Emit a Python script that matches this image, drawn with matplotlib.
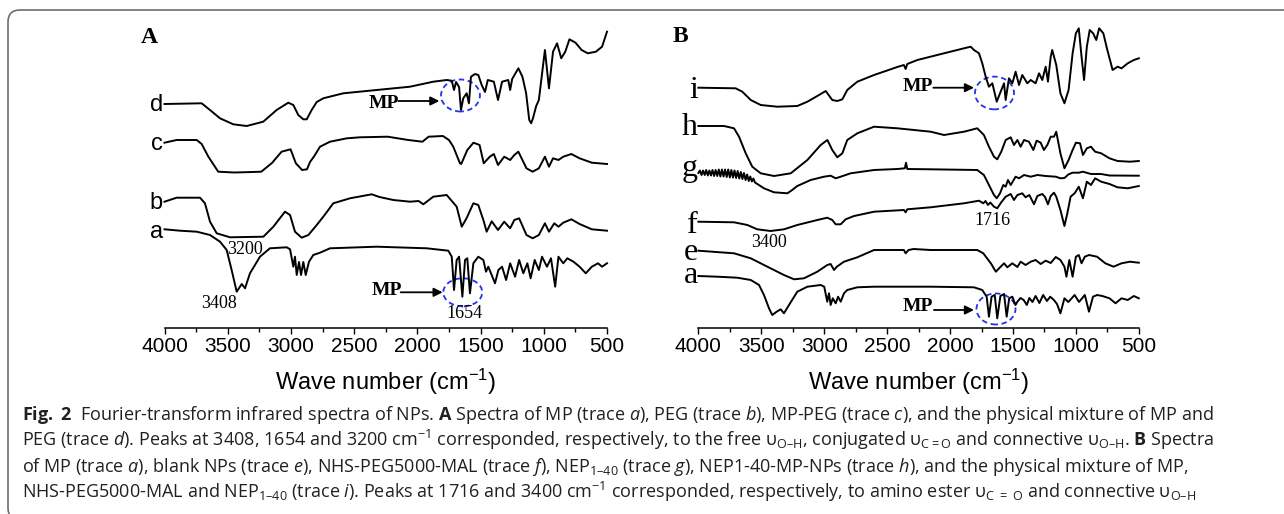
import numpy as np
import matplotlib
matplotlib.use("Agg")
import matplotlib.pyplot as plt
from matplotlib.patches import Ellipse, FancyBboxPatch

W, H = 1284, 514

# ---- panel A traces (wavenumber, stacked transmittance, arbitrary units) ----
A_d_wn = [4000, 3706, 3640, 3561, 3456, 3350, 3219, 3113, 3021, 2981, 2942, 2902, 2875, 2836, 2796, 2744,
          2586, 2322, 2058, 1874, 1768, 1728, 1710, 1694, 1670, 1655, 1637, 1610, 1592, 1576, 1544, 1518,
          1491, 1465, 1443, 1395, 1362, 1330, 1281, 1266, 1250, 1201, 1169, 1140, 1115, 1100, 1085, 1060,
          1039, 991, 959, 927, 895, 862, 830, 797, 749, 701, 652, 588, 539, 500]
A_d_t = [224, 224.7, 218, 209.7, 203.7, 202, 206.3, 218, 225.3, 223, 213, 208.7, 208.7, 218, 226, 229.7,
         234.7, 238, 241.3, 246.3, 248, 247.3, 238, 246, 241, 218, 229.7, 234.7, 224.7, 251.3, 254, 253,
         243, 236, 248, 246.3, 228, 246.3, 248, 238, 249, 259.7, 251.3, 235, 208, 204.7, 210, 222,
         228, 278, 239.7, 276.3, 284.7, 269.7, 276.3, 288.7, 285.3, 278, 274.7, 276.3, 281.3, 296.3]

A_c_wn = [4000, 3904, 3745, 3706, 3653, 3601, 3575, 3450, 3300, 3235, 3150, 3074, 3003, 2961, 2912, 2873,
          2849, 2815, 2770, 2691, 2557, 2454, 2234, 2072, 1960, 1911, 1798, 1750, 1716, 1663, 1653, 1605,
          1556, 1508, 1475, 1427, 1395, 1362, 1313, 1266, 1233, 1201, 1137, 1088, 1039, 991, 959, 927,
          884, 846, 782, 717, 620, 500]
A_c_t = [185.3, 188, 188, 184, 171.3, 161.3, 156.3, 155.5, 156, 156.3, 165, 176.3, 178.7, 164.7, 158, 158.7,
         166, 172, 181.3, 186.3, 189.7, 190.7, 191.3, 188, 186.3, 191.3, 192, 188, 181.3, 164.7, 164, 178,
         185.3, 183, 164.7, 171.3, 174, 163, 171.3, 168, 173, 176.3, 159.7, 156.3, 159.7, 171.3, 161.3, 169.7,
         168, 171.3, 174, 169.7, 165.3, 164]

A_b_wn = [4000, 3904, 3719, 3680, 3640, 3587, 3482, 3218, 3139, 3047, 3007, 2968, 2915, 2862, 2796, 2744,
          2665, 2533, 2361, 2300, 2190, 2058, 1990, 1953, 1874, 1768, 1689, 1649, 1610, 1557, 1518, 1478,
          1452, 1412, 1362, 1313, 1266, 1233, 1195, 1137, 1088, 1039, 991, 959, 917, 884, 846, 782,
          717, 620, 500]
A_b_t = [126.3, 130.3, 130.3, 124.7, 106.3, 94.7, 90.7, 91.3, 101.3, 116.3, 113, 96.3, 90.3, 93, 103, 111.3,
         124.7, 129.7, 133.7, 131, 128, 126.3, 127, 123.7, 131.3, 133, 121.3, 101.3, 110, 124.7, 123, 108,
         96.3, 106.7, 98, 106.3, 99.7, 108, 109.7, 93, 89.7, 93, 104.7, 96.3, 104.7, 101.3, 105.3, 108.7,
         104, 98.7, 97.3]

A_a_wn = [4000, 3877, 3745, 3640, 3561, 3508, 3469, 3429, 3389, 3363, 3324, 3245, 3166, 3033, 3007, 2981,
          2968, 2954, 2936, 2920, 2902, 2883, 2857, 2823, 2770, 2691, 2322, 1926, 1755, 1728, 1710, 1689,
          1670, 1644, 1623, 1605, 1584, 1557, 1518, 1478, 1457, 1439, 1412, 1386, 1359, 1330, 1298, 1266,
          1227, 1195, 1162, 1130, 1104, 1072, 1039, 1014, 975, 943, 910, 884, 846, 814, 765, 717,
          668, 620, 571, 539, 500]
A_a_t = [98.7, 97.3, 96.3, 93, 86.3, 78, 58, 36.3, 44, 39.7, 54.7, 71.3, 79.7, 80.7, 78.7, 61.3,
         71.3, 53, 66, 53, 66, 53, 66.3, 73, 75.3, 79.7, 81.3, 79.7, 77.3, 71.3, 38, 68,
         71.3, 31.3, 68, 69.7, 34.7, 64.7, 71.3, 68, 56.3, 61.3, 53, 44.7, 58, 61.3, 48, 64.7,
         51.3, 68, 54.7, 64.7, 49.7, 68, 58, 71.3, 61.3, 69.7, 41.3, 71.3, 64.7, 69.7, 66.3, 61.3,
         54.7, 61.3, 64.7, 61.3, 64.7]

# ---- panel B traces ----
B_i_wn = [4000, 3704, 3651, 3584, 3505, 3373, 3214, 3134, 3055, 2988, 2936, 2896, 2856, 2817, 2737, 2604,
          2419, 2367, 2353, 2340, 2260, 2048, 1889, 1836, 1810, 1770, 1744, 1717, 1691, 1664, 1629, 1598,
          1571, 1558, 1532, 1505, 1479, 1452, 1426, 1386, 1359, 1320, 1293, 1267, 1240, 1222, 1200, 1188,
          1156, 1123, 1091, 1058, 1026, 1000, 977, 955, 935, 913, 890, 863, 838, 815, 782, 750,
          708, 669, 637, 588, 539, 500]
B_i_t = [240.3, 239.7, 236.3, 228, 223, 221.3, 222, 226.3, 232, 237, 228, 227, 228.7, 238, 246.3, 253,
         261, 263, 259, 264, 268, 274.7, 279.7, 281.3, 278, 274.7, 264.7, 251.3, 241.3, 244.7, 226.3, 236.3,
         244.7, 228, 249.7, 244.7, 256.3, 243, 253, 244.7, 248, 244.7, 254.7, 248, 261.3, 246.3, 271.3, 278,
         263, 234.7, 224.7, 238, 274.7, 294.7, 299.7, 271.3, 248, 281.3, 298, 294.7, 288, 299.7, 294.7, 278,
         258, 261.3, 259.7, 264.7, 268, 269.7]

B_h_wn = [4000, 3797, 3717, 3677, 3624, 3572, 3505, 3399, 3266, 3134, 3028, 2975, 2936, 2896, 2856, 2817,
          2737, 2604, 2419, 2154, 2048, 1889, 1784, 1731, 1691, 1651, 1625, 1593, 1558, 1518, 1492, 1465,
          1439, 1412, 1373, 1338, 1312, 1280, 1254, 1227, 1200, 1174, 1156, 1123, 1091, 1058, 1026, 1000,
          967, 944, 913, 880, 847, 799, 733, 669, 571, 500]
B_h_t = [202, 202, 199.7, 191.3, 174.7, 161.3, 154.7, 152, 154.7, 168, 183, 188, 178, 170.7, 174.7, 188,
         194.7, 201.3, 199.7, 196.3, 193, 196.3, 199.7, 193, 181.3, 171.3, 168.7, 176.3, 188, 190.7, 183, 188,
         181.3, 188, 186.3, 178, 187.3, 185.3, 178, 183, 191.3, 191.3, 196.3, 174.7, 159.7, 168, 178, 185.3,
         184.7, 173, 179.7, 181.3, 176.3, 174.7, 169.7, 167, 166.3, 167]

# g starts with a dense noisy stretch
B_g_wn = [4000, 3988, 3975, 3963, 3950, 3938, 3925, 3913, 3900, 3888, 3875, 3863, 3850, 3838, 3825, 3813,
          3800, 3788, 3775, 3763, 3750, 3738, 3725, 3713, 3700, 3688, 3675, 3663, 3650, 3638, 3625, 3613,
          3600, 3588, 3575, 3563, 3550, 3479, 3399, 3293, 3262, 3214, 3108, 3002, 2949, 2909, 2869, 2790,
          2604, 2419, 2360, 2350, 2340, 2154, 1784, 1731, 1691, 1651, 1629, 1603, 1577, 1558, 1540, 1518,
          1479, 1452, 1412, 1359, 1306, 1240, 1160, 1123, 1091, 1058, 1026, 977, 944, 880, 800, 733, 500]
B_g_t = [155, 157.5, 153, 157.5, 153, 158, 152.5, 157.5, 152.5, 158, 152, 158, 152, 158.5, 151.5, 158.5,
         151.5, 158.5, 151, 158.5, 150.5, 158, 150.5, 157.5, 150, 157, 149.5, 156, 149, 155, 148, 153.5,
         147, 151.5, 146.5, 149.5, 145.5, 139.7, 135.7, 134.7, 137.3, 142, 148, 151.3, 152.3, 149.7, 151.3, 154.7,
         158, 159, 159.7, 165.3, 159, 158.7, 158, 153, 143, 133, 129.7, 134.7, 143, 141.3, 148, 143,
         151.3, 149.7, 153, 151.3, 153, 152, 151.3, 149.7, 150, 153.7, 155.3, 155.3, 156.3, 154, 154, 152.5, 152.3]

B_f_wn = [4000, 3717, 3611, 3532, 3426, 3320, 3214, 3055, 2976, 2936, 2909, 2869, 2830, 2763, 2604, 2367,
          2353, 2340, 2154, 1889, 1770, 1736, 1718, 1699, 1680, 1651, 1625, 1593, 1558, 1518, 1492, 1465,
          1426, 1400, 1370, 1333, 1306, 1267, 1245, 1222, 1200, 1174, 1156, 1123, 1091, 1068, 1042, 1010,
          977, 944, 913, 880, 847, 799, 733, 669, 588, 500]
B_f_t = [106.3, 105.7, 103, 98.7, 97, 98.7, 103, 108, 110.3, 108, 103.7, 103.7, 108.7, 112, 116.3, 118,
         115.7, 118.7, 120.7, 124.7, 127.3, 124.7, 127, 123, 125.5, 121.3, 119.7, 125.7, 131.3, 134, 128, 133,
         134.7, 130.7, 133, 123.7, 132, 134, 131, 123.7, 132, 135.3, 131.3, 118, 102, 114.7, 131.3, 134.7,
         141.3, 129.7, 146.3, 143, 149.7, 146.3, 144, 140.7, 139.7, 142]

B_e_wn = [4000, 3717, 3584, 3452, 3320, 3240, 3161, 3055, 2976, 2949, 2922, 2900, 2843, 2737, 2604, 2367,
          2353, 2330, 2290, 2154, 1784, 1736, 1676, 1636, 1598, 1571, 1545, 1505, 1465, 1439, 1400, 1359,
          1320, 1280, 1240, 1200, 1160, 1123, 1091, 1075, 1052, 1026, 1000, 977, 955, 929, 896, 832,
          766, 701, 637, 571, 500]
B_e_t = [77.3, 74.7, 69.7, 61.3, 53, 48.7, 49.7, 56.3, 63, 64, 58, 61.3, 66.3, 70.7, 78, 78,
         74.7, 78, 79, 78, 78, 74.7, 64.7, 56.3, 61.3, 64.7, 60.7, 64.7, 61, 66.3, 63, 66.3,
         68, 64, 67.3, 65, 71, 68, 61.3, 51.3, 68, 51.3, 71.3, 73, 64.7, 71.3, 73, 71.3,
         64.7, 61.3, 64.7, 66.3, 65.3]

B_a_wn = [4000, 3850, 3691, 3584, 3518, 3479, 3439, 3413, 3378, 3346, 3320, 3280, 3214, 3134, 3028, 3000,
          2976, 2962, 2949, 2932, 2909, 2890, 2869, 2843, 2817, 2737, 2604, 2154, 1810, 1744, 1709, 1691,
          1670, 1645, 1625, 1600, 1571, 1550, 1530, 1505, 1480, 1465, 1440, 1415, 1390, 1370, 1345, 1320,
          1290, 1260, 1230, 1204, 1175, 1150, 1123, 1091, 1060, 1010, 975, 929, 896, 864, 832, 790,
          733, 685, 637, 588, 539, 500]
B_a_t = [52, 51.3, 50.3, 48, 43, 33, 19.7, 13, 16.3, 18.7, 14.7, 23, 36.3, 41.3, 43, 41.3,
         26.3, 34.7, 23, 29.7, 24.7, 31.3, 26.3, 34.7, 38, 40.7, 41.3, 41.3, 40.7, 38, 31.3, 11.3,
         31.3, 33, 9.7, 32, 34, 11.3, 29.7, 31.3, 23, 26.3, 30, 28, 23, 30, 26, 32,
         25, 33, 27, 31.3, 28, 24, 14.7, 29.7, 26, 33, 26, 33, 16.3, 31.3, 33, 32,
         29.7, 24.7, 29.7, 28, 32, 29.7]

ticks = [4000, 3500, 3000, 2500, 2000, 1500, 1000, 500]

caption = [
    r"$\mathbf{Fig.}$ $\mathbf{2}$  Fourier-transform infrared spectra of NPs. $\mathbf{A}$ Spectra of MP (trace $\mathit{a}$), "
    r"PEG (trace $\mathit{b}$), MP-PEG (trace $\mathit{c}$), and the physical mixture of MP and",
    r"PEG (trace $\mathit{d}$). Peaks at 3408, 1654 and 3200 cm$^{\mathregular{-1}}$ corresponded, respectively, "
    r"to the free υ$_{\mathregular{O–H}}$, conjugated υ$_{\mathregular{C=O}}$ and connective υ$_{\mathregular{O–H}}$. "
    r"$\mathbf{B}$ Spectra",
    r"of MP (trace $\mathit{a}$), blank NPs (trace $\mathit{e}$), NHS-PEG5000-MAL (trace $\mathit{f}$), "
    r"NEP$_{\mathregular{1–40}}$ (trace $\mathit{g}$), NEP1-40-MP-NPs (trace $\mathit{h}$), and the physical mixture of MP,",
    r"NHS-PEG5000-MAL and NEP$_{\mathregular{1–40}}$ (trace $\mathit{i}$). Peaks at 1716 and 3400 cm$^{\mathregular{-1}}$ "
    r"corresponded, respectively, to amino ester υ$_{\mathregular{C\ =\ O}}$ and connective υ$_{\mathregular{O–H}}$",
]

plt.rcParams["font.family"] = ["Liberation Sans", "DejaVu Sans"]
plt.rcParams["mathtext.fontset"] = "custom"
plt.rcParams["mathtext.rm"] = "Open Sans"
plt.rcParams["mathtext.it"] = "Open Sans:italic"
plt.rcParams["mathtext.bf"] = "Open Sans:bold"

fig = plt.figure(figsize=(W / 100, H / 100), dpi=100)
fig.patch.set_facecolor("white")

SERIF = "Liberation Serif"
LW = 1.4
BLUE = "#2233ee"


def make_axes(x0, x1):
    ax = fig.add_axes([x0 / W, (H - 328) / H, (x1 - x0) / W, 303 / H])
    ax.set_xlim(4000, 500)
    ax.set_ylim(0, 303)
    for s in ["top", "right", "left"]:
        ax.spines[s].set_visible(False)
    ax.spines["bottom"].set_linewidth(1.1)
    ax.set_yticks([])
    ax.set_xticks(ticks)
    ax.set_xticks(np.array(ticks[:-1]) - 250, minor=True)
    ax.tick_params(axis="x", which="major", length=4.2, width=1.0, labelsize=15, pad=2)
    ax.tick_params(axis="x", which="minor", length=2.6, width=1.0)
    ax.patch.set_visible(False)
    ax.text(0.5, -0.2046, r"Wave number (cm$^{\mathregular{-1}}$)", transform=ax.transAxes,
            ha="center", va="baseline", fontsize=17)
    return ax


def mp_mark(ax, txt_xy, a0, a1, circ_xy, cw, ch):
    ax.text(*txt_xy, "MP", family=SERIF, weight="bold", fontsize=14, ha="center", va="center")
    ax.annotate("", xy=a1, xytext=a0, annotation_clip=False,
                arrowprops=dict(arrowstyle="-|>", color="k", lw=1.3, mutation_scale=13, shrinkA=0, shrinkB=0))
    ax.add_patch(Ellipse(circ_xy, cw, ch, fill=False, ec=BLUE, lw=1.3, ls=(0, (3, 2)), clip_on=False))


# ---------------- panel A ----------------
axA = make_axes(164.5, 607)
for wn, t in [(A_d_wn, A_d_t), (A_c_wn, A_c_t), (A_b_wn, A_b_t), (A_a_wn, A_a_t)]:
    axA.plot(wn, t, color="k", lw=LW, clip_on=False)
for lab, yb in [("d", 217.3), ("c", 178), ("b", 119), ("a", 90)]:
    axA.text(4012, yb, lab, ha="right", va="baseline", fontsize=17, clip_on=False)
axA.text(3363, 78.7, "3200", family=SERIF, fontsize=13, ha="center", va="center")
axA.text(3571, 24.7, "3408", family=SERIF, fontsize=13, ha="center", va="center")
axA.text(1629, 14.7, "1654", family=SERIF, fontsize=13, ha="center", va="center")
mp_mark(axA, (2269, 224), (2151, 227), (1826, 227), (1659, 232.5), 308, 32)
mp_mark(axA, (2240, 37.7), (2132, 35.7), (1800, 35.7), (1641, 35.7), 308, 28)

# ---------------- panel B ----------------
axB = make_axes(698.4, 1138.8)
for wn, t in [(B_i_wn, B_i_t), (B_h_wn, B_h_t), (B_g_wn, B_g_t), (B_f_wn, B_f_t),
              (B_e_wn, B_e_t), (B_a_wn, B_a_t)]:
    axB.plot(wn, t, color="k", lw=LW, clip_on=False)
for lab, yb in [("i", 230), ("h", 193), ("g", 152), ("f", 95), ("e", 68), ("a", 45)]:
    axB.text(4005, yb, lab, family=SERIF, ha="right", va="baseline", fontsize=23, clip_on=False)
axB.text(3437, 85.5, "3400", family=SERIF, fontsize=13, ha="center", va="center")
axB.text(1664, 107.2, "1716", family=SERIF, fontsize=13, ha="center", va="center")
mp_mark(axB, (2256, 241.3), (2133, 240.3), (1810, 240.3), (1647, 235), 310, 32.7)
mp_mark(axB, (2255, 21.3), (2128, 18), (1810, 18), (1635, 19), 310, 31)

fig.text(149 / W, 1 - 37.5 / H, "A", family=SERIF, weight="bold", fontsize=17, ha="center", va="center")
fig.text(680 / W, 1 - 36 / H, "B", family=SERIF, weight="bold", fontsize=17, ha="center", va="center")

# ---------------- caption ----------------
cap_fs = 12
cap_texts = []
for s, yb in zip(caption, [420, 446, 472, 498]):
    cap_texts.append(fig.text(22 / W, 1 - yb / H, s, family="Open Sans", fontsize=cap_fs,
                              color="#231f20", ha="left", va="baseline"))
fig.canvas.draw()
r = fig.canvas.get_renderer()
w0 = cap_texts[0].get_window_extent(r).width
for t in cap_texts:
    t.set_fontsize(cap_fs * 1191 / w0)

# rounded frame around the figure
frame = FancyBboxPatch((8, -6), 1300, 510, boxstyle="round,pad=0,rounding_size=12",
                       transform=None, fill=False, edgecolor="#6e6e6e", lw=1.2)
fig.add_artist(frame)

fig.savefig("out.png", dpi=100, facecolor="white")
